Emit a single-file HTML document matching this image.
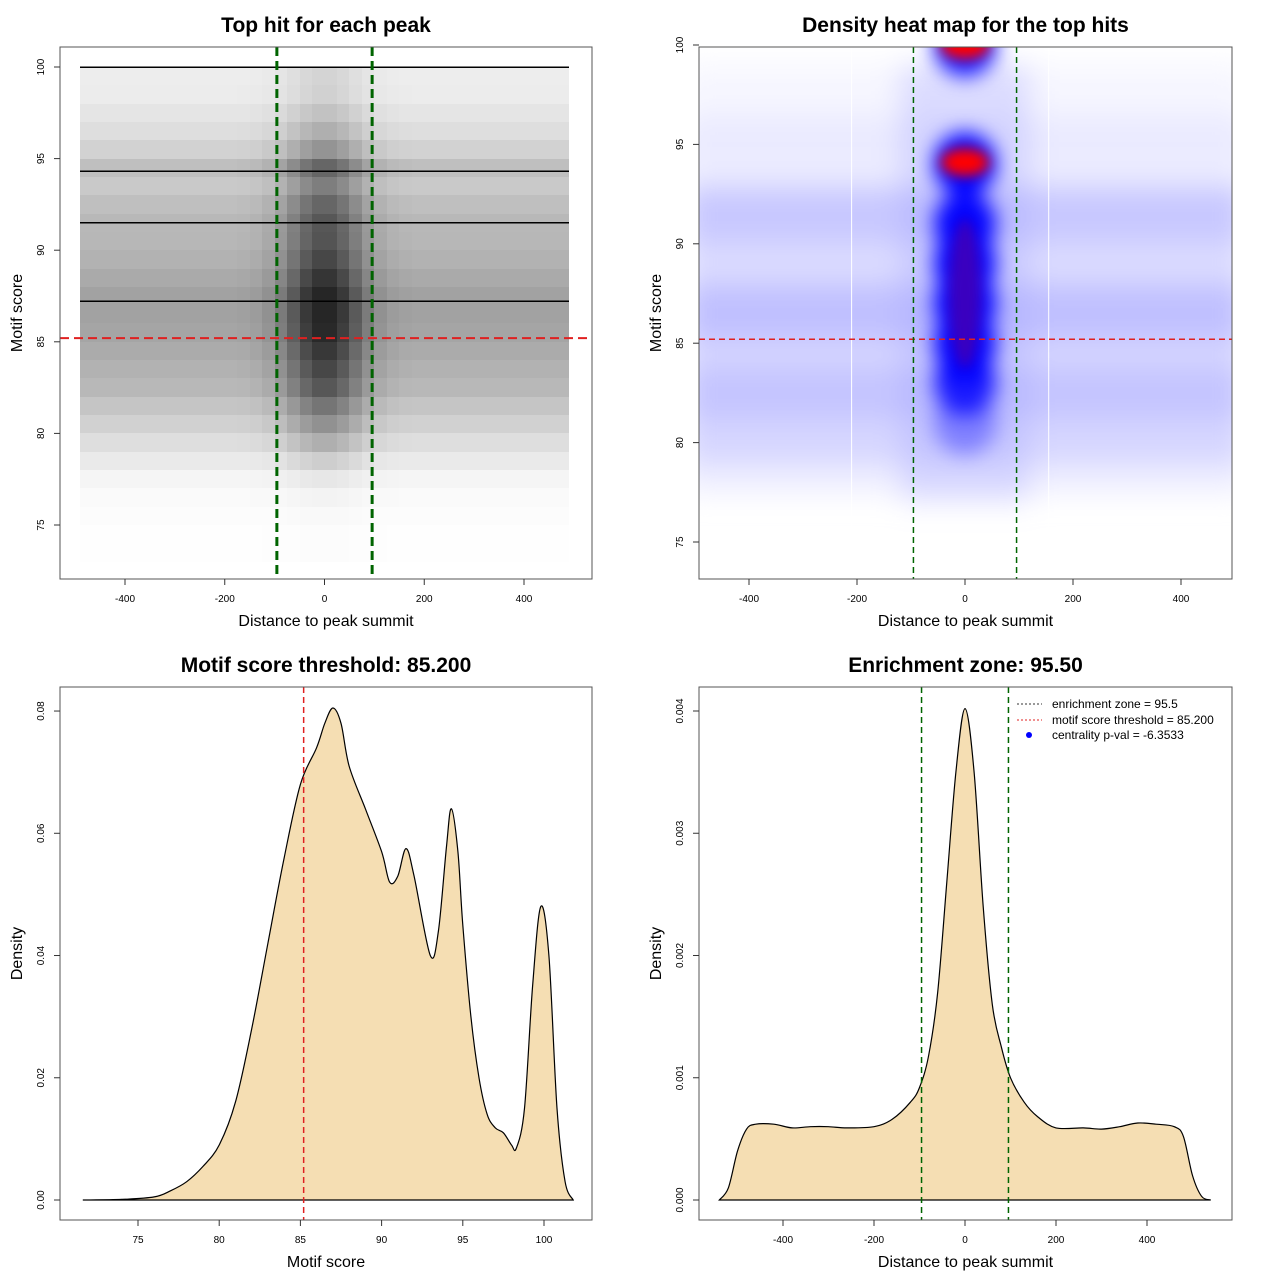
<!DOCTYPE html>
<html><head><meta charset="utf-8"><style>
body{margin:0;background:#fff;}
svg{display:block;font-family:"Liberation Sans",sans-serif;}
</style></head><body>
<svg id="c" width="1280" height="1280" viewBox="0 0 1280 1280" xmlns="http://www.w3.org/2000/svg">
<defs>
<clipPath id="clip2"><rect x="699" y="47" width="533" height="532"/></clipPath>
<clipPath id="clip1"><rect x="60" y="47" width="532" height="532"/></clipPath>
<filter id="blurBand" x="-20%" y="-50%" width="140%" height="200%"><feGaussianBlur stdDeviation="14"/></filter>
<filter id="blurCore" x="-50%" y="-50%" width="200%" height="200%"><feGaussianBlur stdDeviation="10"/></filter>
<filter id="blurRed" x="-50%" y="-50%" width="200%" height="200%"><feGaussianBlur stdDeviation="6"/></filter>
</defs>
<g id="root"></g>
</svg>
<script>
// ---------- data ----------
const scatterRows = [73,74,75,76,77,78,79,80,81,82,83,84,85,86,87,88,89,90,91,92,93,94,95,96,97,98,99];
const scatterRowDensity = [0.01,0.01,0.02,0.04,0.08,0.16,0.26,0.36,0.45,0.55,0.6,0.65,0.7,0.72,0.72,0.66,0.6,0.56,0.55,0.5,0.42,0.5,0.35,0.26,0.2,0.15,0.14];
const scatterCols = [-500,-475,-450,-425,-400,-375,-350,-325,-300,-275,-250,-225,-200,-175,-150,-125,-100,-75,-50,-25,0,25,50,75,100,125,150,175,200,225,250,275,300,325,350,375,400,425,450,475];
const scatterColDensity = [0.42,0.42,0.42,0.42,0.42,0.42,0.42,0.42,0.42,0.42,0.42,0.42,0.42,0.43,0.45,0.5,0.6,0.75,0.9,1.0,1.0,0.9,0.75,0.6,0.5,0.45,0.43,0.42,0.42,0.42,0.42,0.42,0.42,0.42,0.42,0.42,0.42,0.42,0.42,0.42];
const scatterLines = [100,94.3,91.5,87.2];
const bandY = [95,91.5,86.5,82.5,79];
const bandV = [0.07,0.14,0.2,0.16,0.05];
const coreY = [100,94,91,89,87,85,83,81];
const coreV = [0.9,1.0,0.9,1.0,1.0,1.0,0.8,0.35];
const redY = [100,94.1,87.5];
const redV = [1.0,1.0,0.45];
const scoreX = [71.6,74,76,77,78,79,80,81,82,83,84,85,86,86.5,87,87.5,88,89,90,90.5,91,91.5,92,93,93.5,94,94.3,94.7,95,95.5,96,96.5,97,97.5,98,98.3,98.8,99.3,99.8,100.3,100.8,101.3,101.8];
const scoreD = [0,0.0001,0.0005,0.0015,0.003,0.0055,0.009,0.016,0.028,0.042,0.056,0.068,0.074,0.078,0.0805,0.078,0.071,0.064,0.057,0.052,0.053,0.0575,0.053,0.04,0.044,0.058,0.064,0.057,0.045,0.03,0.02,0.014,0.0118,0.011,0.009,0.0085,0.015,0.035,0.048,0.04,0.015,0.003,0];
const distX = [-540,-520,-500,-480,-460,-420,-380,-340,-300,-260,-200,-160,-120,-100,-80,-60,-40,-20,0,20,40,60,80,100,130,160,200,260,300,340,380,420,460,480,500,520,540];
const distD = [0,0.0001,0.0004,0.00058,0.00062,0.00062,0.00059,0.0006,0.0006,0.00059,0.0006,0.00066,0.0008,0.00092,0.00118,0.0017,0.0026,0.0035,0.00402,0.0035,0.0024,0.0016,0.00125,0.001,0.0008,0.00068,0.00059,0.00059,0.00058,0.0006,0.00063,0.00062,0.0006,0.00052,0.0002,0.00003,0];
const xTicksDist = [-400,-200,0,200,400];
const yTicks1 = [75,80,85,90,95,100];
const xTicks3 = [75,80,85,90,95,100];
const yTicks3 = [0,0.02,0.04,0.06,0.08];
const yTicks3Lab = ["0.00","0.02","0.04","0.06","0.08"];
const yTicks4 = [0,0.001,0.002,0.003,0.004];
const yTicks4Lab = ["0.000","0.001","0.002","0.003","0.004"];
const threshold = 85.2, zone = 95.5;

// ---------- helpers ----------
const NS="http://www.w3.org/2000/svg";
const root=document.getElementById('root');
function mk(tag,attrs,parent,name,inter){const e=document.createElementNS(NS,tag);for(const k in attrs)e.setAttribute(k,attrs[k]);(parent||root).appendChild(e);


return e;}
function txt(x,y,s,attrs,name,parent){const t=mk('text',Object.assign({x:x,y:y},attrs||{}),parent,name);t.textContent=s;return t;}
function smoothPath(pts){
  let d='M'+pts[0][0].toFixed(1)+','+pts[0][1].toFixed(1);
  for(let i=0;i<pts.length-1;i++){
    const p0=pts[Math.max(0,i-1)],p1=pts[i],p2=pts[i+1],p3=pts[Math.min(pts.length-1,i+2)];
    const c1=[p1[0]+(p2[0]-p0[0])/6,p1[1]+(p2[1]-p0[1])/6];
    const c2=[p2[0]-(p3[0]-p1[0])/6,p2[1]-(p3[1]-p1[1])/6];
    d+=`C${c1[0].toFixed(1)},${c1[1].toFixed(1)} ${c2[0].toFixed(1)},${c2[1].toFixed(1)} ${p2[0].toFixed(1)},${p2[1].toFixed(1)}`;
  }
  return d;
}
function panel(b,title,xlab,ylab,name){
  const g=mk('g',{},root,name);
  txt((b.x0+b.x1)/2,b.y0-15,title,{'text-anchor':'middle','font-size':21,'font-weight':'bold'},'chart-title',g);
  txt((b.x0+b.x1)/2,b.y1+47,xlab,{'text-anchor':'middle','font-size':16},'x-axis-title',g);
  txt(0,0,ylab,{'text-anchor':'middle','font-size':16,transform:`translate(${b.x0-38},${(b.y0+b.y1)/2}) rotate(-90)`},'y-axis-title',g);
  return g;
}
function frame(b,g){mk('rect',{x:b.x0,y:b.y0,width:b.x1-b.x0,height:b.y1-b.y0,fill:'none',stroke:'#555','stroke-width':1},g,'plot-frame');}
function xAxis(g,b,ticks,labs,sx){
  const y=b.y1;
  ticks.forEach((t,i)=>{mk('line',{x1:sx(t),x2:sx(t),y1:y,y2:y+6,stroke:'#333'},g,'x-tick');
    txt(sx(t),y+23,labs[i],{'text-anchor':'middle','font-size':10},'x-tick-label',g);});
}
function yAxis(g,b,ticks,labs,sy){
  const x=b.x0;
  ticks.forEach((t,i)=>{mk('line',{x1:x,x2:x-6,y1:sy(t),y2:sy(t),stroke:'#333'},g,'y-tick');
    txt(0,0,labs[i],{'text-anchor':'middle','font-size':10,transform:`translate(${x-16},${sy(t)}) rotate(-90)`},'y-tick-label',g);});
}

// ---------- Panel 1 ----------
{
const b={x0:60,x1:592,y0:47,y1:579};
const sx=d=>324.5+0.49875*d, sy=s=>67+(100-s)*18.32;
const g=panel(b,'Top hit for each peak','Distance to peak summit','Motif score','panel-scatter');
const cg=mk('g',{'clip-path':'url(#clip1)','shape-rendering':'crispEdges'},g,'scatter-points');
scatterRows.forEach((r,i)=>{
  scatterCols.forEach((c,j)=>{
    let op=Math.min(0.85,scatterRowDensity[i]*scatterColDensity[j]*1.2);
    const x0=Math.round(sx(Math.max(c,-490))), x1=Math.round(sx(Math.min(c+25,490)));
    const y0=Math.round(sy(r+1)), y1=Math.round(sy(r));
    mk('rect',{x:x0,y:y0,width:x1-x0,height:y1-y0,fill:'#000','fill-opacity':op.toFixed(3)},cg,'point-cell');
  });
});
scatterLines.forEach(v=>mk('line',{x1:sx(-490),x2:sx(490),y1:sy(v),y2:sy(v),stroke:'#000','stroke-width':1.5},cg,'score-line'));
mk('line',{x1:b.x0,x2:b.x1,y1:sy(threshold),y2:sy(threshold),stroke:'#e02020','stroke-width':2,'stroke-dasharray':'9,5'},g,'threshold-line');
[-zone,zone].forEach(v=>mk('line',{x1:sx(v),x2:sx(v),y1:b.y0,y2:b.y1,stroke:'#006400','stroke-width':3,'stroke-dasharray':'9,5'},g,'zone-line'));
frame(b,g);
xAxis(g,b,xTicksDist,xTicksDist.map(String),sx);
yAxis(g,b,yTicks1,yTicks1.map(String),sy);
}

// ---------- Panel 2 ----------
{
const b={x0:699,x1:1232,y0:47,y1:579};
const sx=d=>965+0.54*d, sy=s=>45+(100-s)*19.88;
const g=panel(b,'Density heat map for the top hits','Distance to peak summit','Motif score','panel-heatmap');
const cg=mk('g',{'clip-path':'url(#clip2)'},g,'heatmap-cells');
const bg=mk('g',{filter:'url(#blurBand)'},cg,'heatmap-bands');
mk('rect',{x:sx(-520),y:sy(99),width:sx(520)-sx(-520),height:sy(77.5)-sy(99),fill:'#f6f6ff'},bg,'heat-base');
mk('rect',{x:sx(-520),y:sy(93),width:sx(520)-sx(-520),height:sy(79)-sy(93),fill:'#dcdcff'},bg,'heat-base-mid');
bandY.forEach((y,i)=>mk('rect',{x:sx(-520),y:sy(y+1.5),width:sx(520)-sx(-520),height:sy(y-1.5)-sy(y+1.5),fill:'#5050ff','fill-opacity':bandV[i]},bg,'heat-band'));
mk('rect',{x:sx(-120),y:sy(99),width:sx(120)-sx(-120),height:sy(77)-sy(99),fill:'#a0a0ff','fill-opacity':0.3},bg,'heat-center-band');
const cgc=mk('g',{filter:'url(#blurCore)'},cg,'heatmap-core');
mk('rect',{x:sx(-45),y:sy(92),width:0.54*90,height:19.88*9,fill:'#0000ff'},cgc,'heat-core-column');
coreY.forEach((y,i)=>mk('ellipse',{cx:sx(0),cy:sy(y),rx:0.54*58,ry:19.88*1.6,fill:'#0000ff','fill-opacity':coreV[i]},cgc,'heat-core'));
const rg=mk('g',{filter:'url(#blurRed)'},cg,'heatmap-peaks');
redY.forEach((y,i)=>mk('ellipse',{cx:sx(0),cy:sy(y),rx:i==2?16:24,ry:i==2?75:14,fill:i==2?'#800070':'#ff0000','fill-opacity':redV[i]},rg,'heat-peak'));
[-210,155].forEach(v=>mk('line',{x1:sx(v),x2:sx(v),y1:b.y0,y2:b.y1,stroke:'#fff','stroke-width':1},cg,'heat-gap'));
mk('line',{x1:b.x0,x2:b.x1,y1:sy(threshold),y2:sy(threshold),stroke:'#e02020','stroke-width':1.5,'stroke-dasharray':'6,4'},g,'threshold-line');
[-zone,zone].forEach(v=>mk('line',{x1:sx(v),x2:sx(v),y1:b.y0,y2:b.y1,stroke:'#006400','stroke-width':1.5,'stroke-dasharray':'6,4'},g,'zone-line'));
frame(b,g);
xAxis(g,b,xTicksDist,xTicksDist.map(String),sx);
yAxis(g,b,yTicks1,yTicks1.map(String),sy);
}

// ---------- Panel 3 ----------
{
const b={x0:60,x1:592,y0:687,y1:1220};
const sx=s=>138+(s-75)*16.24, sy=d=>1200-d*6112;
const g=panel(b,'Motif score threshold: 85.200','Motif score','Density','panel-score-density');
const p=smoothPath(scoreX.map((x,i)=>[sx(x),sy(scoreD[i])]));
mk('path',{d:p+'Z',fill:'#f5deb3',stroke:'#000','stroke-width':1.2},g,'density-area');
mk('line',{x1:sx(threshold),x2:sx(threshold),y1:b.y0,y2:b.y1,stroke:'#e02020','stroke-width':1.5,'stroke-dasharray':'6,4'},g,'threshold-line');
frame(b,g);
xAxis(g,b,xTicks3,xTicks3.map(String),sx);
yAxis(g,b,yTicks3,yTicks3Lab,sy);
}

// ---------- Panel 4 ----------
{
const b={x0:699,x1:1232,y0:687,y1:1220};
const sx=d=>965+0.455*d, sy=d=>1200-d*122250;
const g=panel(b,'Enrichment zone: 95.50','Distance to peak summit','Density','panel-distance-density');
const p=smoothPath(distX.map((x,i)=>[sx(x),sy(distD[i])]));
mk('path',{d:p+'Z',fill:'#f5deb3',stroke:'#000','stroke-width':1.2},g,'density-area');
[-zone,zone].forEach(v=>mk('line',{x1:sx(v),x2:sx(v),y1:b.y0,y2:b.y1,stroke:'#006400','stroke-width':1.5,'stroke-dasharray':'6,4'},g,'zone-line'));
frame(b,g);
xAxis(g,b,xTicksDist,xTicksDist.map(String),sx);
yAxis(g,b,yTicks4,yTicks4Lab,sy);
const lg=mk('g',{},g,'legend');
mk('line',{x1:1017,x2:1042,y1:704,y2:704,stroke:'#333','stroke-dasharray':'2,2'},lg,'legend-key-zone');
txt(1052,708,'enrichment zone = 95.5',{'font-size':12},'legend-entry',lg);
mk('line',{x1:1017,x2:1042,y1:720,y2:720,stroke:'#e02020','stroke-dasharray':'2,2'},lg,'legend-key-threshold');
txt(1052,724,'motif score threshold = 85.200',{'font-size':12},'legend-entry',lg);
mk('circle',{cx:1029,cy:735,r:3,fill:'#0000ff'},lg,'legend-key-pval');
txt(1052,739,'centrality p-val = -6.3533',{'font-size':12},'legend-entry',lg);
}
</script>
</body></html>
